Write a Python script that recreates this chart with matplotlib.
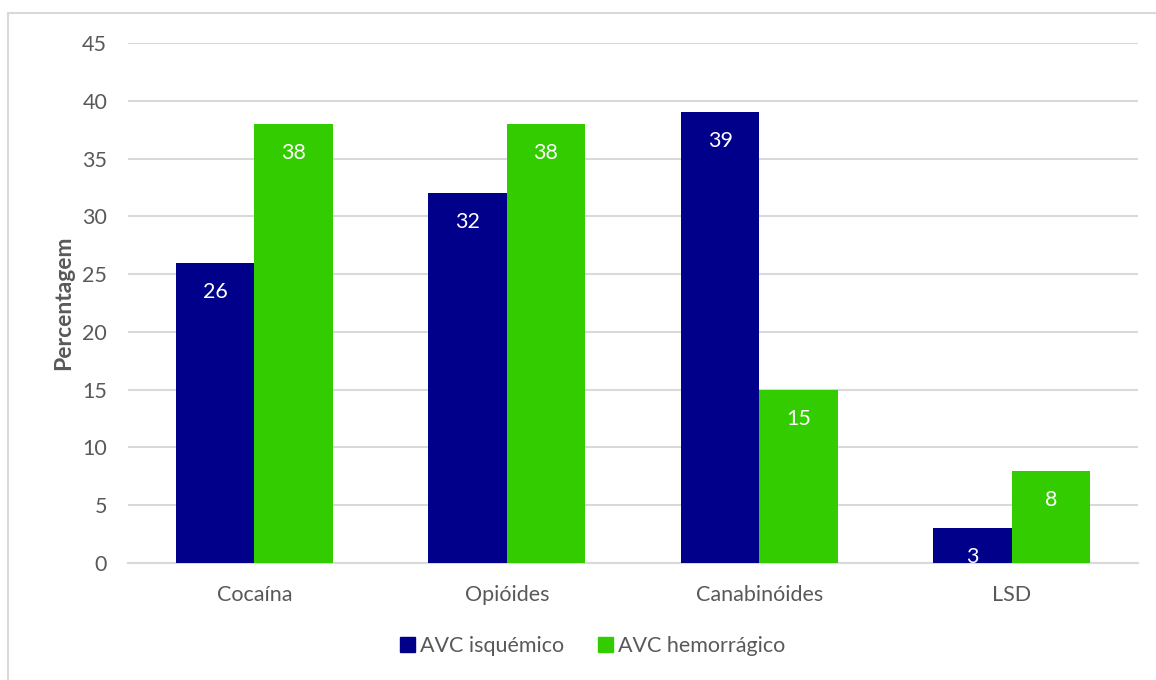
import matplotlib
matplotlib.use("Agg")
import numpy as np
import matplotlib.pyplot as plt
from matplotlib.patches import Rectangle, Patch

substances = ["Cocaína", "Opióides", "Canabinóides", "LSD"]
isquemico = [26, 32, 39, 3]
hemorragico = [38, 38, 15, 8]
series_names = ["AVC isquémico", "AVC hemorrágico"]
yticks = [0, 5, 10, 15, 20, 25, 30, 35, 40, 45]

plt.rcParams["font.family"] = ["Lato", "DejaVu Sans"]
text_grey = "#595959"
grid_grey = "#D9D9D9"
blue = "#00008B"
green = "#33CC00"

fig = plt.figure(figsize=(11.56, 6.80), dpi=100)
# light frame round the chart area
fig.patches.append(Rectangle((8 / 1156, -0.05), 1.2, 1 - 13 / 680 + 0.05,
                             transform=fig.transFigure, fill=False,
                             edgecolor=grid_grey, linewidth=1.5))

ax = fig.add_axes([128 / 1156, 1 - 563 / 680, 1010 / 1156, 520 / 680])

x = np.arange(len(substances))
w = 0.31
b1 = ax.bar(x - w / 2, isquemico, w, color=blue, zorder=3)
b2 = ax.bar(x + w / 2, hemorragico, w, color=green, zorder=3)

for bars, vals in ((b1, isquemico), (b2, hemorragico)):
    for bar, v in zip(bars, vals):
        ax.annotate(str(v), (bar.get_x() + bar.get_width() / 2, v),
                    xytext=(0, -29), textcoords="offset pixels",
                    ha="center", va="center", color="white", fontsize=15.5,
                    zorder=4)

ax.set_xlim(-0.5, len(substances) - 0.5)
ax.set_ylim(0, 45)
ax.set_yticks(yticks)
ax.set_xticks(x)
ax.set_xticklabels(substances)
ax.yaxis.grid(True, color=grid_grey, linewidth=1.5, zorder=0)
ax.set_axisbelow(True)
for side in ("top", "right", "left"):
    ax.spines[side].set_visible(False)
ax.spines["bottom"].set_color(grid_grey)
ax.spines["bottom"].set_linewidth(1.5)
ax.tick_params(axis="both", length=0, labelsize=15.5, colors=text_grey)
ax.tick_params(axis="y", pad=15)
ax.tick_params(axis="x", pad=16)
ax.set_ylabel("Percentagem", fontsize=16.5, fontweight="bold", color=text_grey,
              labelpad=6)

handles = [Patch(color=blue), Patch(color=green)]
fig.legend(handles, series_names, loc="center",
           bbox_to_anchor=(0.5125, 1 - 646 / 680),
           ncol=2, frameon=False, fontsize=15.5, labelcolor=text_grey,
           handlelength=0.7, handleheight=0.7, handletextpad=0.25,
           columnspacing=1.55)

fig.savefig("out.png", dpi=100, facecolor="white")
